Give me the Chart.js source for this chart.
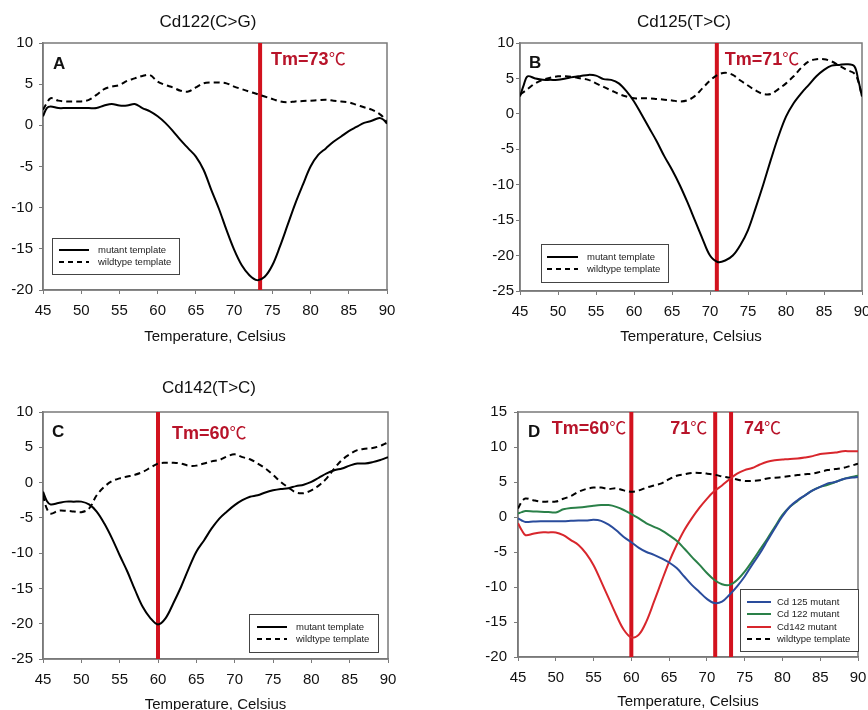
<!DOCTYPE html>
<html>
<head>
<meta charset="utf-8">
<script src="https://cdn.jsdelivr.net/npm/chart.js@4.4.1/dist/chart.umd.min.js"></script>
<style>
  html, body { margin: 0; padding: 0; background: #fff; width: 868px; height: 710px; overflow: hidden; }
  canvas { position: absolute; }
</style>
</head>
<body>
<canvas id="panelA" style="left:0px;top:0px" width="434" height="355"></canvas>
<canvas id="panelB" style="left:434px;top:0px" width="434" height="355"></canvas>
<canvas id="panelC" style="left:0px;top:355px" width="434" height="375"></canvas>
<canvas id="panelD" style="left:434px;top:355px" width="434" height="375"></canvas>
<script>
// temperature samples shared by every curve (Celsius)
const temps = [45, 45.5, 46, 47, 48, 49, 50, 51, 52, 53, 54, 55, 56, 57, 58, 59,
  60, 61, 62, 63, 64, 65, 66, 67, 68, 69, 70, 71, 72, 73, 74, 75, 76, 77, 78, 79,
  80, 81, 82, 83, 84, 85, 86, 87, 88, 89, 89.5, 90];

// A: Cd122(C>G)
const aMutant = [1.1, 2.1, 2.3, 2.1, 2.1, 2.1, 2.1, 2.1, 2.1, 2.4, 2.6, 2.4, 2.4, 2.6, 2.1, 1.7,
  1.1, 0.3, -0.7, -1.8, -2.8, -3.8, -5.4, -7.8, -10.1, -12.7, -15.1, -17.0, -18.2, -18.8, -18.4, -17.0, -14.7, -12.1, -9.5, -7.2,
  -5.0, -3.6, -2.8, -2.0, -1.35, -0.7, -0.2, 0.3, 0.55, 0.9, 0.7, 0.2];
const aWildtype = [1.9, 2.7, 3.3, 3.0, 2.9, 2.9, 2.9, 3.1, 3.7, 4.4, 4.7, 4.9, 5.4, 5.7, 6.0, 6.1,
  5.3, 4.9, 4.6, 4.2, 4.1, 4.6, 5.1, 5.2, 5.2, 5.1, 4.7, 4.4, 4.1, 3.8, 3.5, 3.2, 2.9, 2.8, 2.9, 2.95,
  3.0, 3.05, 3.1, 3.0, 2.9, 2.8, 2.5, 2.2, 1.9, 1.4, 1.0, 0.3];

// B: Cd125(T>C)
const bMutant = [2.45, 4.1, 5.3, 5.0, 4.8, 4.8, 4.8, 5.0, 5.2, 5.35, 5.5, 5.4, 4.9, 4.8, 4.3, 3.2,
  1.75, -0.1, -2.0, -3.9, -6.0, -7.9, -10.0, -12.4, -15.0, -17.6, -20.0, -20.9, -20.7, -20.0, -18.5, -16.4, -13.3, -10.0, -6.5, -3.2,
  -0.4, 1.5, 2.9, 4.1, 5.3, 6.2, 6.8, 6.9, 7.0, 6.7, 4.8, 2.45];
const bWildtype = [2.7, 3.1, 3.5, 4.3, 4.8, 5.1, 5.3, 5.3, 5.2, 5.0, 4.8, 4.3, 3.8, 3.3, 2.8, 2.45,
  2.2, 2.2, 2.2, 2.1, 2.0, 1.9, 1.75, 1.9, 2.5, 3.6, 4.7, 5.5, 5.8, 5.5, 4.7, 4.0, 3.3, 2.8, 2.8, 3.5,
  4.3, 5.3, 6.5, 7.4, 7.7, 7.7, 7.4, 6.8, 6.2, 5.7, 4.6, 2.45];

// C: Cd142(T>C)
const cMutant = [-1.3, -2.6, -3.1, -2.9, -2.7, -2.7, -2.7, -3.1, -4.1, -5.8, -7.9, -10.3, -12.6, -15.2, -17.6, -19.2,
  -20.1, -19.2, -17.1, -14.8, -12.2, -9.8, -8.2, -6.5, -5.1, -4.1, -3.2, -2.5, -2.0, -1.8, -1.4, -1.1, -0.9, -0.8, -0.5, -0.3,
  0.1, 0.7, 1.3, 1.75, 2.0, 2.4, 2.7, 2.7, 2.9, 3.2, 3.4, 3.6];
const cWildtype = [-1.8, -3.7, -4.4, -4.0, -4.0, -4.1, -4.2, -3.7, -1.8, -0.6, 0.2, 0.6, 0.85, 1.1, 1.5, 2.1,
  2.7, 2.8, 2.8, 2.7, 2.4, 2.4, 2.7, 3.0, 3.2, 3.7, 4.0, 3.6, 3.3, 2.7, 2.0, 1.1, 0.1, -0.7, -1.4, -1.5,
  -1.1, -0.4, 0.6, 2.0, 3.2, 4.0, 4.6, 4.8, 4.9, 5.2, 5.45, 5.7];

// D: all mutants together
const dCd125 = [-0.2, -0.5, -0.7, -0.65, -0.6, -0.6, -0.6, -0.6, -0.55, -0.5, -0.5, -0.4, -0.55, -1.1, -1.9, -2.85,
  -3.6, -4.4, -5.0, -5.4, -5.9, -6.5, -7.3, -8.5, -9.7, -10.7, -11.7, -12.3, -12.1, -11.1, -9.9, -8.5, -6.8, -5.2, -3.4, -1.6,
  0.1, 1.5, 2.4, 3.1, 3.8, 4.3, 4.8, 5.0, 5.4, 5.6, 5.65, 5.7];
const dCd122 = [0.5, 0.7, 0.85, 0.8, 0.75, 0.7, 0.65, 1.1, 1.3, 1.35, 1.45, 1.6, 1.7, 1.7, 1.45, 1.0,
  0.4, -0.2, -0.9, -1.4, -1.9, -2.6, -3.4, -4.5, -5.7, -6.8, -8.0, -9.0, -9.6, -9.7, -9.0, -7.8, -6.3, -4.7, -3.1, -1.4,
  0.3, 1.45, 2.3, 3.1, 3.8, 4.3, 4.6, 5.0, 5.4, 5.7, 5.8, 5.9];
const dCd142 = [-0.9, -1.9, -2.6, -2.4, -2.2, -2.2, -2.2, -2.6, -3.3, -4.0, -5.2, -6.9, -9.2, -11.6, -14.0, -16.1,
  -17.2, -16.8, -14.9, -12.1, -9.2, -6.4, -4.0, -1.9, -0.2, 1.3, 2.6, 3.7, 4.5, 5.4, 6.2, 6.7, 7.0, 7.5, 7.9, 8.1,
  8.2, 8.3, 8.35, 8.5, 8.7, 9.0, 9.1, 9.2, 9.4, 9.4, 9.4, 9.4];
const dWildtype = [1.2, 2.2, 2.65, 2.4, 2.2, 2.2, 2.2, 2.6, 3.0, 3.6, 4.0, 4.2, 4.2, 4.0, 4.1, 3.8,
  3.6, 3.8, 4.2, 4.5, 4.8, 5.4, 5.9, 6.1, 6.3, 6.3, 6.2, 6.05, 5.8, 5.6, 5.35, 5.15, 5.15, 5.25, 5.5, 5.6,
  5.7, 5.85, 6.0, 6.1, 6.2, 6.45, 6.7, 6.85, 7.0, 7.3, 7.45, 7.6];

// melting temperatures (where the red lines sit) and their labels
const tmA = [73.4], tmALabels = ['Tm=73'];
const tmB = [70.9], tmBLabels = ['Tm=71'];
const tmC = [60], tmCLabels = ['Tm=60'];
const tmD = [60, 71.1, 73.2], tmDLabels = ['Tm=60', '71', '74'];

// axis ranges
const xRange = [45, 90];
const aYRange = [-20, 10];
const bYRange = [-25, 10];
const cYRange = [-25, 10];
const dYRange = [-20, 15];

const FONT = 'Liberation Sans, Arial, sans-serif';
const GREY = '#7a7a7a';
const TM_RED = '#d2121e';
const TM_TEXT = '#b8142a';

function pts(ys) {
  return ys.map((y, i) => ({ x: temps[i], y: y }));
}

function curve(label, ys, color, dashed) {
  return {
    label: label,
    data: pts(ys),
    borderColor: color,
    borderWidth: 2,
    borderDash: dashed ? [6, 4] : [],
    pointRadius: 0,
    tension: 0.35,
    fill: false
  };
}

function tmLines(tms, yr) {
  return tms.map(t => ({
    label: 'Tm',
    data: [{ x: t, y: yr[0] }, { x: t, y: yr[1] }],
    borderColor: TM_RED,
    borderWidth: 4,
    pointRadius: 0,
    tension: 0,
    clip: false
  }));
}

function makePanel(id, p) {
  const decor = {
    id: 'decor',
    beforeDatasetsDraw(chart) {
      const { ctx, chartArea: a } = chart;
      ctx.save();
      ctx.strokeStyle = GREY;
      ctx.lineWidth = 1.5;
      ctx.strokeRect(a.left, a.top, a.right - a.left, a.bottom - a.top);
      ctx.restore();
    },
    afterDraw(chart) {
      const { ctx } = chart;
      const xs = chart.scales.x;
      ctx.save();
      ctx.textBaseline = 'middle';
      if (p.title) {
        ctx.fillStyle = '#111';
        ctx.font = '17px ' + FONT;
        ctx.textAlign = 'center';
        ctx.fillText(p.title, p.titlePos[0], p.titlePos[1]);
      }
      ctx.fillStyle = '#111';
      ctx.font = 'bold 17px ' + FONT;
      ctx.textAlign = 'left';
      ctx.fillText(p.letter, p.letterPos[0], p.letterPos[1]);

      // Tm labels
      p.tms.forEach((t, i) => {
        const main = p.tmLabels[i];
        const off = p.tmOffsets[i];
        ctx.font = 'bold 18px ' + FONT;
        const w1 = ctx.measureText(main).width;
        ctx.font = '17px "Noto Sans CJK SC"';
        const w2 = ctx.measureText('\u2103').width;
        const px = xs.getPixelForValue(t);
        const left = off < 0 ? px + off - w1 - w2 : px + off;
        ctx.fillStyle = TM_TEXT;
        ctx.textAlign = 'left';
        ctx.font = 'bold 18px ' + FONT;
        ctx.fillText(main, left, p.tmY);
        ctx.font = '17px "Noto Sans CJK SC"';
        ctx.fillText('\u2103', left + w1, p.tmY - 1);
      });

      // legend box
      const L = p.legend;
      ctx.fillStyle = '#fff';
      ctx.fillRect(L.box[0], L.box[1], L.box[2], L.box[3]);
      ctx.strokeStyle = '#444';
      ctx.lineWidth = 1;
      ctx.strokeRect(L.box[0] + 0.5, L.box[1] + 0.5, L.box[2], L.box[3]);
      ctx.font = '9.5px ' + FONT;
      L.items.forEach((it, i) => {
        const y = L.rowY[i];
        ctx.strokeStyle = it.color;
        ctx.lineWidth = 2;
        ctx.setLineDash(it.dashed ? [5, 4] : []);
        ctx.beginPath();
        ctx.moveTo(L.lineX[0], y);
        ctx.lineTo(L.lineX[1], y);
        ctx.stroke();
        ctx.setLineDash([]);
        ctx.fillStyle = '#222';
        ctx.fillText(it.text, L.textX, y);
      });
      ctx.restore();
    }
  };

  return new Chart(document.getElementById(id), {
    type: 'line',
    data: { datasets: p.datasets.concat(tmLines(p.tms, p.yRange)) },
    options: {
      responsive: false,
      animation: false,
      layout: { padding: { top: p.top, right: p.right, left: 0, bottom: 0 } },
      plugins: { legend: { display: false }, title: { display: false }, tooltip: { enabled: false } },
      scales: {
        x: {
          type: 'linear',
          min: xRange[0], max: xRange[1],
          ticks: { stepSize: 5, color: '#111', padding: 8, font: { family: FONT, size: 15 } },
          grid: { drawOnChartArea: false, drawTicks: true, tickLength: 4, color: GREY },
          border: { color: GREY, width: 1.5 },
          title: { display: true, text: 'Temperature, Celsius', color: '#111',
                   font: { family: FONT, size: 15 }, padding: { top: 0, bottom: p.xTitlePad } },
          afterFit(s) { s.height = p.xHeight; s.paddingLeft = 0; s.paddingRight = 0; }
        },
        y: {
          min: p.yRange[0], max: p.yRange[1],
          ticks: { stepSize: 5, color: '#111', padding: p.yPad, font: { family: FONT, size: 15 } },
          grid: { drawOnChartArea: false, drawTicks: true, tickLength: 4, color: GREY },
          border: { color: GREY, width: 1.5 },
          afterFit(s) { s.width = p.yWidth; }
        }
      }
    },
    plugins: [decor]
  });
}

const twoItems = [
  { text: 'mutant template', color: '#000', dashed: false },
  { text: 'wildtype template', color: '#000', dashed: true }
];

makePanel('panelA', {
  datasets: [curve('mutant template', aMutant, '#000', false), curve('wildtype template', aWildtype, '#000', true)],
  yRange: aYRange, tms: tmA, tmLabels: tmALabels, tmOffsets: [11], tmY: 60,
  top: 43, right: 47, yWidth: 43, xHeight: 65, yPad: 6, xTitlePad: 9,
  title: 'Cd122(C>G)', titlePos: [208, 22], letter: 'A', letterPos: [53, 64],
  legend: { box: [52, 238, 127, 36], rowY: [250, 262], lineX: [59, 89], textX: 98, items: twoItems }
});

makePanel('panelB', {
  datasets: [curve('mutant template', bMutant, '#000', false), curve('wildtype template', bWildtype, '#000', true)],
  yRange: bYRange, tms: tmB, tmLabels: tmBLabels, tmOffsets: [8], tmY: 60,
  top: 43, right: 6, yWidth: 86, xHeight: 64, yPad: 2, xTitlePad: 9,
  title: 'Cd125(T>C)', titlePos: [250, 22], letter: 'B', letterPos: [95, 63],
  legend: { box: [107, 244, 127, 38], rowY: [257, 269], lineX: [113, 144], textX: 153, items: twoItems }
});

makePanel('panelC', {
  datasets: [curve('mutant template', cMutant, '#000', false), curve('wildtype template', cWildtype, '#000', true)],
  yRange: cYRange, tms: tmC, tmLabels: tmCLabels, tmOffsets: [14], tmY: 79,
  top: 57, right: 46, yWidth: 43, xHeight: 71, yPad: 6, xTitlePad: 16,
  title: 'Cd142(T>C)', titlePos: [209, 33], letter: 'C', letterPos: [52, 77],
  legend: { box: [249, 259, 129, 38], rowY: [272, 284], lineX: [257, 287], textX: 296, items: twoItems }
});

makePanel('panelD', {
  datasets: [
    curve('Cd 125 mutant', dCd125, '#2a4c9c', false),
    curve('Cd 122 mutant', dCd122, '#2a8048', false),
    curve('Cd142 mutant', dCd142, '#d8262c', false),
    curve('wildtype template', dWildtype, '#000', true)
  ],
  yRange: dYRange, tms: tmD, tmLabels: tmDLabels, tmOffsets: [-5, -8, 13], tmY: 74,
  top: 57, right: 10, yWidth: 84, xHeight: 73, yPad: 7, xTitlePad: 19,
  title: null, letter: 'D', letterPos: [94, 77],
  legend: {
    box: [306, 234, 118, 62], rowY: [247, 259, 272, 284], lineX: [313, 337], textX: 343,
    items: [
      { text: 'Cd 125 mutant', color: '#2a4c9c', dashed: false },
      { text: 'Cd 122 mutant', color: '#2a8048', dashed: false },
      { text: 'Cd142 mutant', color: '#d8262c', dashed: false },
      { text: 'wildtype template', color: '#000', dashed: true }
    ]
  }
});
</script>
</body>
</html>
